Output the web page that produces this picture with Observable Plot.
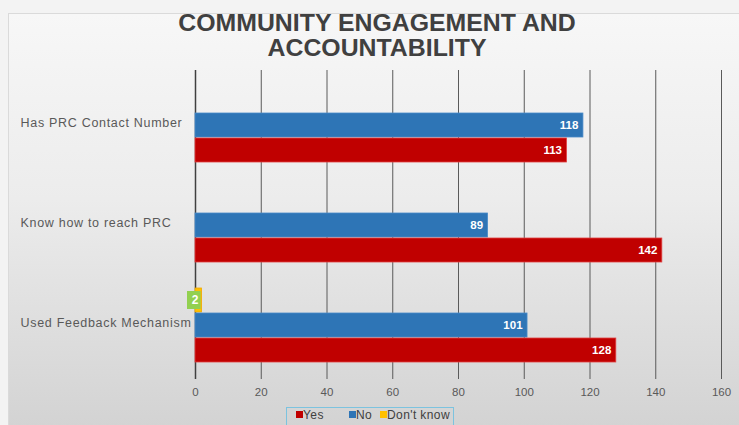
<!DOCTYPE html>
<html>
<head>
<meta charset="utf-8">
<script src="https://cdn.jsdelivr.net/npm/d3@7"></script>
<script src="https://cdn.jsdelivr.net/npm/@observablehq/plot@0.6"></script>
<style>
  html, body { margin: 0; padding: 0; background: #f3f3f3; overflow: hidden; }
  #frame {
    position: absolute; left: 8px; top: 13px; width: 731px; height: 412px;
    border-top: 1px solid #dadada; border-left: 1px solid #dadada;
    background: linear-gradient(to bottom, #f7f7f7 0%, #ececec 45%, #d3d3d3 100%);
  }
  #wrap { position: absolute; left: 0; top: 0; width: 739px; height: 425px; font-family: "Liberation Sans", Arial, sans-serif; }
  #title {
    height: 60px; box-sizing: border-box; padding-top: 11px; text-align: center;
    font-weight: bold; font-size: 23px; line-height: 25px; color: #404040; padding-left: 14px;
  }
  #title div { display: inline-block; transform: scaleX(1.08); }
  #chart svg { display: block; }
  #legend {
    position: absolute; left: 286px; top: 407px; width: 168px; height: 22px; box-sizing: border-box;
    border: 1px solid #7cc3df; font-size: 12px; letter-spacing: 0.4px; color: #404040;
    white-space: nowrap;
  }
  #legend span.it { position: absolute; top: 0px; }
  #legend span.sw { display: inline-block; width: 7px; height: 7px; margin-right: 0px; vertical-align: 1px; }
</style>
</head>
<body>
<div id="frame"></div>
<div id="wrap">
  <div id="title"><div>COMMUNITY ENGAGEMENT AND<br>ACCOUNTABILITY</div></div>
  <div id="chart"></div>
  <div id="legend"></div>
</div>
<script>
const categories = ["Has PRC Contact Number", "Know how to reach PRC", "Used Feedback Mechanism"];
const series = ["Yes", "No", "Don't know"];
const yesValues = [113, 142, 128];
const noValues = [118, 89, 101];
const dkValues = [0, 0, 2];
const xTicks = [0, 20, 40, 60, 80, 100, 120, 140, 160];
const seriesColors = ["#c00000", "#2e75b6", "#ffc000"];

const valuesBySeries = {"Yes": yesValues, "No": noValues, "Don't know": dkValues};
const stackOrder = ["Don't know", "No", "Yes"]; // top to bottom within a group

const rows = [];
const yDomain = [];
categories.forEach((c, i) => {
  if (i > 0) yDomain.push("gap" + i);
  stackOrder.forEach(s => {
    yDomain.push(c + "|" + s);
    rows.push({category: c, series: s, value: valuesBySeries[s][i], key: c + "|" + s});
  });
});
const shown = rows.filter(d => d.value > 0);
const main = shown.filter(d => d.series !== "Don't know");
const dk = shown.filter(d => d.series === "Don't know");

const chart = Plot.plot({
  width: 739,
  height: 345,
  marginTop: 10,
  marginBottom: 26,
  marginLeft: 195,
  marginRight: 18,
  style: {background: "transparent", fontFamily: "Liberation Sans, Arial, sans-serif"},
  x: {domain: [0, 160], axis: null},
  y: {domain: yDomain, paddingInner: 0.06, paddingOuter: 0.53, axis: null},
  color: {domain: series, range: seriesColors},
  marks: [
    Plot.ruleX(xTicks.slice(1), {stroke: "#5a5a5a", strokeWidth: 1}),
    Plot.ruleX([0], {stroke: "#404040", strokeWidth: 1.5}),
    Plot.axisX({ticks: xTicks, tickSize: 0, tickPadding: 8, fontSize: 11.5, color: "#595959", label: null}),
    Plot.barX(shown, {x: "value", y: "key", fill: "series", stroke: d => d.series === "Yes" ? "#e04040" : d.series === "No" ? "#4a8bc8" : "#f0a800", strokeWidth: 0.8}),
    Plot.barX(dk, {x1: 0, x2: "value", y: "key", fill: "#92d050", insetLeft: -8, insetRight: 1, insetTop: 3, insetBottom: 3}),
    Plot.text(dk, {x: "value", y: "key", text: d => String(d.value), dx: -7, fill: "white", fontWeight: "bold", fontSize: 12}),
    Plot.text(main, {x: "value", y: "key", text: d => String(d.value), textAnchor: "end", dx: -5, fill: "white", fontWeight: "bold", fontSize: 11.5}),
    Plot.text(categories, {y: d => d + "|No", text: d => d, frameAnchor: "left", textAnchor: "start", dx: -175, dy: -3, fill: "#595959", fontSize: 12.5})
  ]
});
document.getElementById("chart").appendChild(chart);
chart.querySelectorAll("text").forEach(t => {
  if (categories.includes(t.textContent)) t.setAttribute("letter-spacing", "0.7");
});

const legendOffsets = [9, 62, 93];
const legend = document.getElementById("legend");
series.forEach((s, i) => {
  const it = document.createElement("span");
  it.className = "it";
  it.style.left = legendOffsets[i] + "px";
  const sw = document.createElement("span");
  sw.className = "sw";
  sw.style.background = seriesColors[i];
  it.appendChild(sw);
  it.appendChild(document.createTextNode(s));
  legend.appendChild(it);
});
</script>
</body>
</html>
